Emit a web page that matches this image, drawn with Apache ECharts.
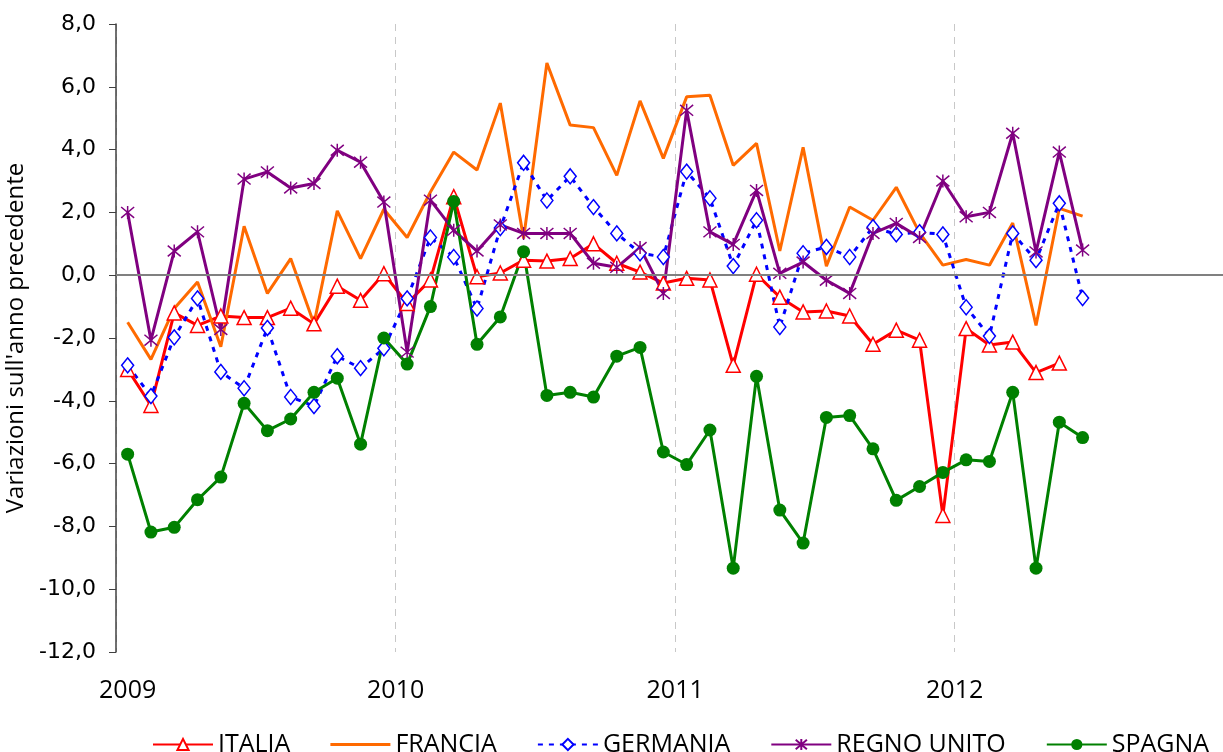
<!DOCTYPE html>
<html>
<head>
<meta charset="utf-8">
<script src="https://cdn.jsdelivr.net/npm/echarts@6/dist/echarts.min.js"></script>
<style>
  html, body { margin: 0; padding: 0; background: #fff; }
  #chart { width: 1223px; height: 752px; }
</style>
</head>
<body>
<div id="chart"></div>
<script>
// months Jan 2009 .. Dec 2012, data runs up to mid 2012
const years = ["2009", "2010", "2011", "2012"];
const months = ["01", "02", "03", "04", "05", "06", "07", "08", "09", "10", "11", "12"];
const categories = years.flatMap((y) => months.map((m) => y + "-" + m));

const italia = [
  -3.0, -4.15, -1.2, -1.6, -1.3, -1.35, -1.35, -1.05, -1.55, -0.35, -0.8, 0.05,
  -0.9, -0.15, 2.5, -0.05, 0.07, 0.48, 0.45, 0.53, 1.0, 0.38, 0.1, -0.25,
  -0.1, -0.15, -2.87, 0.03, -0.7, -1.17, -1.14, -1.3, -2.2, -1.75, -2.07, -7.65,
  -1.7, -2.22, -2.13, -3.1, -2.8
];
const francia = [
  -1.5, -2.68, -1.06, -0.22, -2.28, 1.56, -0.58, 0.53, -1.55, 2.05, 0.53, 2.1,
  1.2, 2.65, 3.92, 3.35, 5.48, 1.17, 6.76, 4.78, 4.7, 3.18, 5.55, 3.72,
  5.68, 5.73, 3.5, 4.2, 0.77, 4.07, 0.29, 2.17, 1.75, 2.8, 1.35, 0.32,
  0.5, 0.32, 1.66, -1.6, 2.13, 1.88
];
const germania = [
  -2.87, -3.85, -1.98, -0.74, -3.08, -3.6, -1.68, -3.88, -4.17, -2.58, -2.96, -2.33,
  -0.74, 1.2, 0.58, -1.06, 1.5, 3.58, 2.38, 3.15, 2.17, 1.33, 0.7, 0.58,
  3.3, 2.45, 0.29, 1.75, -1.65, 0.7, 0.9, 0.58, 1.53, 1.3, 1.37, 1.3,
  -1.02, -1.94, 1.33, 0.48, 2.29, -0.73
];
const regnoUnito = [
  2.0, -2.07, 0.77, 1.38, -1.73, 3.06, 3.29, 2.78, 2.92, 3.98, 3.6, 2.33,
  -2.45, 2.39, 1.43, 0.77, 1.6, 1.33, 1.33, 1.33, 0.38, 0.25, 0.88, -0.58,
  5.25, 1.38, 0.98, 2.7, 0.06, 0.42, -0.16, -0.58, 1.33, 1.65, 1.2, 3.0,
  1.86, 2.0, 4.52, 0.74, 3.92, 0.8
];
const spagna = [
  -5.7, -8.18, -8.03, -7.15, -6.43, -4.08, -4.95, -4.58, -3.73, -3.28, -5.38, -2.0,
  -2.83, -1.0, 2.35, -2.2, -1.33, 0.75, -3.83, -3.73, -3.88, -2.58, -2.3, -5.63,
  -6.03, -4.93, -9.33, -3.22, -7.48, -8.53, -4.53, -4.47, -5.53, -7.17, -6.73, -6.28,
  -5.88, -5.93, -3.73, -9.33, -4.68, -5.17
];

const yTicks = { min: -12, max: 8, interval: 2 };
const everyYear = (i) => i % 12 === 0;

const asterisk = "path://M0,0L10,10M10,0L0,10M5,-1L5,11";
// plain line icon for the series without markers (tiny corners keep the box 60x14)
const lineIcon = "path://M0,0L0.01,0L0,0.01Z M0,5.5L60,5.5L60,8.5L0,8.5Z M60,14L59.99,14L60,13.99Z";
const fontNarrow = "'Liberation Sans Narrow', 'Open Sans', sans-serif";

const chart = echarts.init(document.getElementById("chart"));

chart.setOption({
  animation: false,
  grid: { left: 116, right: -11, top: 24, bottom: 100, outerBoundsMode: "none", containLabel: false },
  legend: {
    left: 147,
    top: 727,
    itemWidth: 60,
    itemHeight: 14,
    itemGap: 40,
    textStyle: { fontFamily: fontNarrow, fontSize: 25, color: "#000" },
    data: [
      "ITALIA",
      { name: "FRANCIA", icon: lineIcon, itemStyle: { color: "#FF6A00" } },
      "GERMANIA",
      "REGNO UNITO",
      "SPAGNA",
    ],
  },
  xAxis: {
    type: "category",
    data: categories,
    boundaryGap: true,
    axisLine: { show: false, onZero: false },
    axisTick: { show: false },
    splitLine: {
      show: true,
      interval: everyYear,
      lineStyle: { color: "#c8c8c8", type: [7, 6], width: 1 },
    },
    axisLabel: {
      interval: everyYear,
      margin: 26,
      fontFamily: fontNarrow,
      fontSize: 25,
      color: "#000",
      formatter: function (value, index) {
        const y = value.slice(0, 4);
        return index === 0 ? y : "{s|" + y + "}";
      },
      rich: { s: { fontFamily: fontNarrow, fontSize: 25, color: "#000", padding: [0, 23, 0, 0] } },
    },
  },
  yAxis: {
    type: "value",
    min: yTicks.min,
    max: yTicks.max,
    interval: yTicks.interval,
    name: "Variazioni sull'anno precedente",
    nameLocation: "middle",
    nameRotate: 90,
    nameGap: 88,
    nameTextStyle: { fontFamily: fontNarrow, fontSize: 24, color: "#000" },
    axisLine: { show: true, lineStyle: { color: "#404040", width: 1.5 } },
    axisTick: { show: true, length: 7, lineStyle: { color: "#404040" } },
    splitLine: { show: false },
    axisLabel: {
      margin: 20,
      fontFamily: "'DejaVu Sans', sans-serif",
      fontSize: 22,
      color: "#000",
      formatter: (v) => v.toFixed(1).replace(".", ","),
    },
  },
  series: [
    {
      name: "ITALIA",
      type: "line",
      data: italia,
      symbol: "triangle",
      symbolSize: 14,
      lineStyle: { color: "#FF0000", width: 3 },
      itemStyle: { color: "#fff", borderColor: "#FF0000", borderWidth: 1.5 },
      // zero reference line
      markLine: {
        silent: true,
        symbol: "none",
        label: { show: false },
        lineStyle: { color: "#808080", type: "solid", width: 2 },
        data: [{ yAxis: 0 }],
      },
    },
    {
      name: "FRANCIA",
      type: "line",
      data: francia,
      showSymbol: false,
      symbol: "none",
      lineStyle: { color: "#FF6A00", width: 3 },
      itemStyle: { color: "#FF6A00" },
    },
    {
      name: "GERMANIA",
      type: "line",
      data: germania,
      symbol: "diamond",
      symbolSize: [12, 15],
      lineStyle: { color: "#0000FF", width: 3, type: [5, 6] },
      itemStyle: { color: "#fff", borderColor: "#0000FF", borderWidth: 1.5 },
    },
    {
      name: "REGNO UNITO",
      type: "line",
      data: regnoUnito,
      symbol: asterisk,
      symbolSize: 13,
      lineStyle: { color: "#800080", width: 3 },
      itemStyle: { color: "#800080", borderColor: "#800080", borderWidth: 1.5 },
    },
    {
      name: "SPAGNA",
      type: "line",
      data: spagna,
      symbol: "circle",
      symbolSize: 13,
      lineStyle: { color: "#008000", width: 3 },
      itemStyle: { color: "#008000" },
    },
  ],
});
</script>
</body>
</html>
